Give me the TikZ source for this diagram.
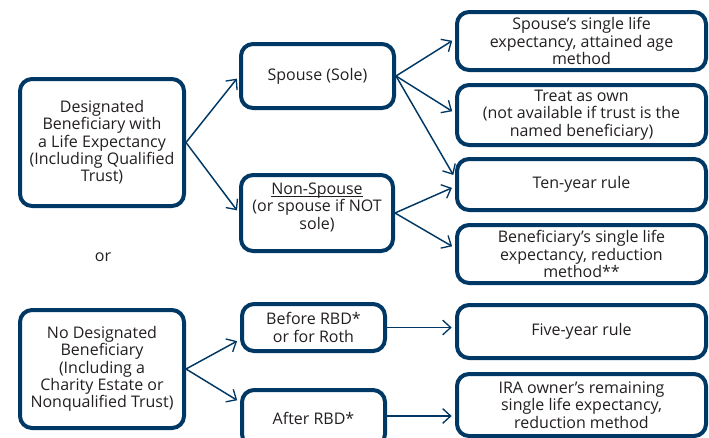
\documentclass[tikz,border=0pt]{standalone}
\usepackage{fontspec}
\setmainfont{Open Sans}
\usetikzlibrary{arrows.meta}
\definecolor{navy}{HTML}{003865}
\definecolor{ink}{HTML}{231F20}
\begin{document}
\begin{tikzpicture}[x=0.75pt, y=-0.75pt,
    box/.style={draw=navy, line width=3pt, rounded corners=9pt, align=center,
      text=ink, font=\fontsize{12}{13}\selectfont, inner sep=2pt},
    arr/.style={draw=navy, line width=1.1pt, shorten >=2.5pt,
      -{Straight Barb[length=6pt, width=11pt, line width=1pt]}}]
    \clip (0,0) rectangle (709,437);

    \node[box, minimum width=123pt, minimum height=95.25pt](desig) at (102,142.5){Designated\\Beneficiary with\\a Life Expectancy\\(Including Qualified\\Trust)};
    \node[box, minimum width=123pt, minimum height=88.5pt](nodesig) at (102,369){No Designated\\Beneficiary\\(Including a\\Charity Estate or\\Nonqualified Trust)};
    \node[text=ink, font=\fontsize{12}{13}\selectfont](or) at (103,257){or};

    \node[box, minimum width=114.75pt, minimum height=48pt](spouse) at (317.5,76){Spouse (Sole)};
    \node[box, minimum width=114pt, minimum height=57pt](nonsp) at (317,213){\underline{\smash{Non-Spouse}}\\(or spouse if NOT\\sole)};
    \node[box, minimum width=107.25pt, minimum height=35.25pt](before) at (313.5,327.5){Before RBD*\\or for Roth};
    \node[box, minimum width=107.25pt, minimum height=42pt](after) at (313.5,418){After RBD*};

    \node[box, minimum width=186.75pt, minimum height=43.5pt](attained) at (581.5,41){Spouse’s single life\\expectancy, attained age\\method};
    \node[box, minimum width=186.75pt, minimum height=45pt](own) at (581.5,115){Treat as own\\(not available if trust is the\\named beneficiary)};
    \node[box, minimum width=186.75pt, minimum height=38.25pt](ten) at (581.5,184.5){Ten-year rule};
    \node[box, minimum width=186.75pt, minimum height=43.5pt](reduce) at (581.5,254){Beneficiary’s single life\\expectancy, reduction\\method**};
    \node[box, minimum width=186.75pt, minimum height=39.75pt](five) at (581.5,331.5){Five-year rule};
    \node[box, minimum width=186.75pt, minimum height=46.5pt](remain) at (581.5,405){IRA owner’s remaining\\single life expectancy,\\reduction method};

    \draw[arr](desig.east)--(spouse.west);
    \draw[arr](desig.east)--(nonsp.west);
    \draw[arr](spouse.east)--([yshift=1.5pt]attained.west);
    \draw[arr](spouse.east)--([yshift=1.5pt]own.west);
    \draw[arr](spouse.east)--([yshift=5pt]ten.west);
    \draw[arr](nonsp.east)--([yshift=-1.5pt]ten.west);
    \draw[arr](nonsp.east)--([yshift=4.5pt]reduce.west);
    \draw[arr](nodesig.east)--([yshift=-9pt]before.west);
    \draw[arr](nodesig.east)--([yshift=12pt]after.west);
    \draw[arr](before.east)--(before.east -| five.west);
    \draw[arr]([yshift=1.5pt]after.east)--([yshift=1.5pt]after.east -| remain.west);
  \end{tikzpicture}
\end{document}
